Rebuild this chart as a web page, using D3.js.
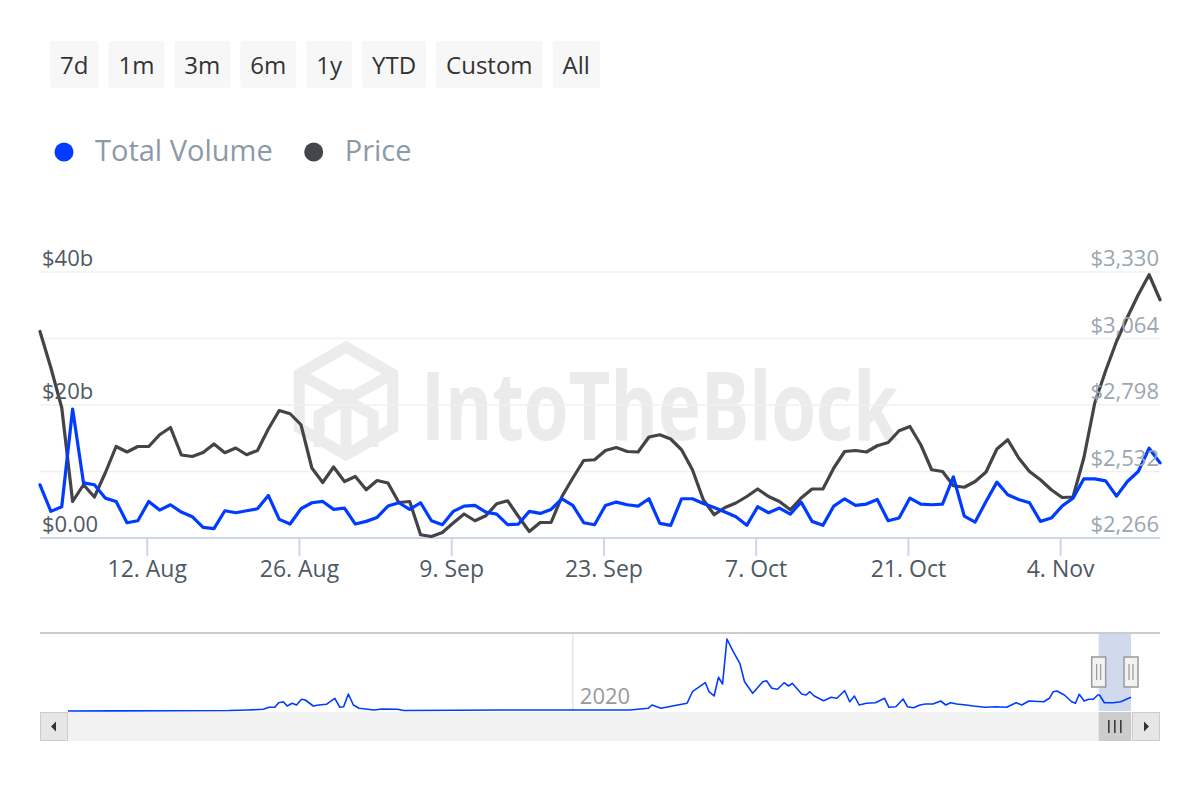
<!DOCTYPE html>
<html>
<head>
<meta charset="utf-8">
<script src="https://cdn.jsdelivr.net/npm/d3@7/dist/d3.min.js"></script>
<style>
	body { margin: 0; background: #ffffff; }
	text { font-family: "Open Sans", "Noto Sans", sans-serif; }
</style>
</head>
<body>
<svg id="chart" width="1200" height="800"></svg>
<script>

// ---- data ----
const range_buttons = ["7d", "1m", "3m", "6m", "1y", "YTD", "Custom", "All"]
const series_names = ["Total Volume", "Price"]

const first_day = "2024-08-02"
// daily total volume, billions USD
const total_volume = [
	8.0, 4.0, 4.7, 19.4, 8.3, 8.0, 6.0, 5.5, 2.3, 2.6,
	5.5, 4.2, 5.0, 3.9, 3.2, 1.6, 1.4, 4.1, 3.8, 4.1,
	4.4, 6.4, 2.8, 2.1, 4.4, 5.3, 5.5, 4.3, 4.5, 2.1,
	2.5, 3.1, 4.8, 5.3, 4.3, 5.3, 2.6, 2.0, 4.0, 4.8,
	4.9, 3.9, 3.6, 2.0, 2.1, 4.0, 3.7, 4.3, 5.9, 4.9,
	2.3, 2.0, 4.9, 5.4, 5.0, 4.8, 5.9, 2.2, 1.9, 5.9,
	5.9, 5.2, 4.6, 3.9, 3.2, 1.9, 4.7, 3.8, 4.5, 3.6,
	5.4, 2.5, 1.9, 4.8, 5.9, 4.9, 5.1, 5.8, 2.6, 3.0,
	6.0, 5.1, 5.0, 5.1, 9.2, 3.3, 2.4, 5.5, 8.4, 6.5,
	5.8, 5.3, 2.5, 3.0, 4.8, 6.0, 8.9, 8.9, 8.6, 6.3,
	8.5, 10.0, 13.5, 11.3
]
// daily price, USD
const price = [
	3092, 2947, 2787, 2412, 2479, 2430, 2526, 2632, 2610, 2632,
	2632, 2679, 2708, 2598, 2592, 2608, 2642, 2607, 2626, 2599,
	2616, 2702, 2776, 2763, 2719, 2546, 2488, 2550, 2492, 2512,
	2459, 2496, 2486, 2408, 2412, 2279, 2272, 2288, 2326, 2362,
	2335, 2355, 2403, 2415, 2352, 2292, 2328, 2328, 2432, 2506,
	2576, 2579, 2616, 2628, 2612, 2610, 2670, 2679, 2662, 2619,
	2539, 2419, 2359, 2388, 2406, 2432, 2462, 2432, 2412, 2379,
	2426, 2462, 2462, 2546, 2612, 2616, 2610, 2635, 2648, 2695,
	2712, 2639, 2539, 2532, 2475, 2469, 2492, 2530, 2622, 2659,
	2586, 2532, 2499, 2459, 2428, 2430, 2587, 2806, 2935, 3052,
	3149, 3239, 3319, 3219
]

const volume_ticks = [0, 10, 20, 30, 40]
const volume_label_ticks = [0, 20, 40]
const price_ticks = [2266, 2532, 2798, 3064, 3330]
const date_ticks = ["2024-08-12", "2024-08-26", "2024-09-09", "2024-09-23", "2024-10-07", "2024-10-21", "2024-11-04"]

// navigator: full history of total volume (billions USD)
const nav_dates = [
	"2015-08-07", "2016-01-01", "2017-01-01", "2017-03-01", "2017-04-20", "2017-05-08", "2017-05-27", "2017-06-08",
	"2017-06-23", "2017-07-05", "2017-07-21", "2017-08-04", "2017-08-20", "2017-09-01", "2017-09-26", "2017-10-14",
	"2017-11-07", "2017-11-19", "2017-12-04", "2017-12-20", "2018-01-01", "2018-01-16", "2018-02-01", "2018-02-19",
	"2018-04-08", "2018-05-03", "2018-06-21", "2018-07-12", "2018-12-25", "2019-05-28", "2020-01-01", "2020-03-27",
	"2020-06-30", "2020-08-28", "2020-09-09", "2020-10-08", "2020-11-30", "2020-12-30", "2021-01-16", "2021-02-26",
	"2021-03-10", "2021-03-26", "2021-04-09", "2021-04-22", "2021-05-06", "2021-05-26", "2021-06-16", "2021-07-01",
	"2021-07-27", "2021-08-28", "2021-09-09", "2021-09-26", "2021-10-14", "2021-11-04", "2021-11-18", "2021-11-30",
	"2021-12-30", "2022-01-13", "2022-01-25", "2022-02-08", "2022-03-10", "2022-04-03", "2022-04-21", "2022-05-16",
	"2022-06-01", "2022-06-16", "2022-07-01", "2022-07-24", "2022-08-22", "2022-09-20", "2022-10-04", "2022-10-26",
	"2022-11-18", "2022-12-02", "2022-12-21", "2023-01-11", "2023-01-28", "2023-02-21", "2023-03-18", "2023-04-03",
	"2023-04-18", "2023-05-08", "2023-06-07", "2023-06-30", "2023-08-05", "2023-09-09", "2023-10-14", "2023-11-13",
	"2023-12-01", "2023-12-24", "2024-02-09", "2024-02-27", "2024-03-10", "2024-03-22", "2024-04-15", "2024-05-08",
	"2024-05-20", "2024-06-01", "2024-06-17", "2024-07-01", "2024-07-16", "2024-07-30", "2024-08-05", "2024-08-20",
	"2024-09-18", "2024-10-11", "2024-11-13"
]
const nav_volume = [
	0, 0.1, 0.3, 0.7, 1.2, 2.6, 2.6, 5.8,
	6.5, 3.5, 5.4, 4.2, 8.2, 7.7, 3.5, 4.2,
	4.7, 6.5, 8.9, 2.6, 3.0, 11.9, 4.2, 1.9,
	0.7, 1.4, 1.2, 0.3, 0.5, 0.7, 0.7, 0.7,
	0.7, 1.9, 4.2, 1.9, 4.2, 5.4, 13.5, 19.8,
	13.5, 10.5, 23.6, 18.9, 50.4, 41.5, 33.4, 20.5,
	12.4, 20.5, 21.2, 15.9, 15.2, 19.8, 17.5, 19.4,
	11.9, 11.2, 13.5, 10.5, 7.2, 9.6, 8.9, 14.2,
	6.5, 10.5, 4.2, 5.4, 5.8, 8.9, 2.6, 3.0,
	8.4, 3.0, 2.3, 4.2, 4.9, 4.9, 7.0, 4.2,
	5.8, 4.9, 4.2, 3.5, 2.6, 3.0, 2.6, 5.8,
	4.2, 7.0, 6.5, 8.9, 13.5, 14.0, 11.2, 6.5,
	5.4, 11.7, 7.0, 8.2, 8.2, 11.2, 11.2, 5.8,
	5.8, 6.5, 9.6
]
const nav_year_ticks = ["2020-01-01"]

// ---- layout ----
const plot_left = 40, plot_right = 1160, plot_top = 272, plot_bottom = 538
const nav_top = 633, nav_bottom = 711, nav_left = 68, nav_right = 1131
const scroll_top = 712, scroll_h = 29

const vol_color = "#003cff"
const price_color = "#434348"

const svg = d3.select("#chart")

// ---- range selector buttons ----
let button_x = 50
const buttons = svg.append("g").classed("buttons", true)
range_buttons.forEach((label) => {
	let g = buttons.append("g")
	let rect = g.append("rect")
	let t = g.append("text")
		.text(label)
		.attr("y", 74)
		.attr("text-anchor", "middle")
		.attr("font-size", 24)
		.attr("fill", "#333333")
	let w = t.node().getComputedTextLength() + 20
	rect.attr("x", button_x).attr("y", 41)
		.attr("width", w).attr("height", 47)
		.attr("rx", 3)
		.attr("fill", "#f7f7f7")
	t.attr("x", button_x + w / 2)
	button_x += w + 10
})

// ---- legend ----
const legend = svg.append("g").classed("legend", true)
let legend_x = 64
series_names.forEach((name, i) => {
	legend.append("circle")
		.attr("cx", legend_x).attr("cy", 152).attr("r", 9.5)
		.attr("fill", i == 0 ? vol_color : "#43474b")
	let t = legend.append("text")
		.text(name)
		.attr("x", legend_x + 31).attr("y", 161)
		.attr("font-size", 29)
		.attr("fill", "#8c9aa7")
	legend_x += 31 + t.node().getComputedTextLength() + 41
})

// ---- scales ----
const dates = total_volume.map((d, i) => d3.utcDay.offset(new Date(first_day + "T00:00:00Z"), i))

const x = d3.scaleUtc()
	.domain([dates[0], dates[dates.length - 1]])
	.range([plot_left, plot_right])

const y_vol = d3.scaleLinear()
	.domain([volume_ticks[0], volume_ticks[volume_ticks.length - 1]])
	.range([plot_bottom, plot_top])

const y_price = d3.scaleLinear()
	.domain([price_ticks[0], price_ticks[price_ticks.length - 1]])
	.range([plot_bottom, plot_top])

// ---- watermark ----
const wm = svg.append("g").classed("watermark", true)
const hex_cx = 346, hex_cy = 401, hex_r = 54
const hex_pts = d3.range(6).map(k => {
	let a = (-90 + 60 * k) * Math.PI / 180
	return [hex_cx + hex_r * Math.cos(a), hex_cy + hex_r * Math.sin(a)]
})
wm.append("path")
	.attr("d", "M" + hex_pts.join("L") + "Z")
	.attr("fill", "none").attr("stroke", "#ececec").attr("stroke-width", 11)
	.attr("stroke-linejoin", "miter")
wm.append("path")
	.attr("d", `M${hex_pts[5]}L${hex_cx + 27},${hex_cy + 14}L${hex_cx + 27},${hex_cy + 46}
		M${hex_pts[1]}L${hex_cx - 27},${hex_cy + 14}L${hex_cx - 27},${hex_cy + 46}
		M${hex_cx},${hex_cy - 12}L${hex_cx},${hex_cy + 56}`)
	.attr("fill", "none").attr("stroke", "#ececec").attr("stroke-width", 11)
wm.append("text")
	.text("IntoTheBlock")
	.attr("x", 421).attr("y", 440)
	.attr("font-size", 95)
	.attr("font-weight", "bold")
	.attr("textLength", 477)
	.attr("lengthAdjust", "spacingAndGlyphs")
	.attr("fill", "#ebebeb")

// ---- grid ----
svg.append("g").classed("grid", true)
	.selectAll("line")
	.data(volume_ticks.slice(1)).enter().append("line")
	.attr("x1", plot_left).attr("x2", plot_right)
	.attr("y1", d => y_vol(d)).attr("y2", d => y_vol(d))
	.attr("stroke", "#f0f0f0").attr("stroke-width", 1.5)

// ---- x axis ----
const tick_dates = date_ticks.map(d => new Date(d + "T00:00:00Z"))
const x_axis = svg.append("g").classed("x_axis", true)
x_axis.append("line")
	.attr("x1", plot_left).attr("x2", plot_right)
	.attr("y1", plot_bottom).attr("y2", plot_bottom)
	.attr("stroke", "#ccd6eb").attr("stroke-width", 2)
x_axis.selectAll("line.tick")
	.data(tick_dates).enter().append("line")
	.classed("tick", true)
	.attr("x1", d => x(d) - 1.5).attr("x2", d => x(d) - 1.5)
	.attr("y1", plot_bottom).attr("y2", plot_bottom + 18)
	.attr("stroke", "#ccd6eb").attr("stroke-width", 2)
x_axis.selectAll("text")
	.data(tick_dates).enter().append("text")
	.text(d => d3.utcFormat("%-d. %b")(d))
	.attr("x", d => x(d) - 1.5).attr("y", 577)
	.attr("text-anchor", "middle")
	.attr("font-size", 23)
	.attr("fill", "#4f5964")

// ---- series ----
svg.append("clipPath").attr("id", "plot_clip")
	.append("rect")
	.attr("x", plot_left - 2).attr("y", plot_top - 10)
	.attr("width", plot_right - plot_left + 4).attr("height", plot_bottom - plot_top + 10)

const lines = svg.append("g").attr("clip-path", "url(#plot_clip)")

lines.append("path")
	.datum(price)
	.attr("d", d3.line().x((d, i) => x(dates[i])).y(d => y_price(d)))
	.attr("fill", "none").attr("stroke", price_color)
	.attr("stroke-width", 3.2).attr("stroke-linejoin", "round").attr("stroke-linecap", "round")

lines.append("path")
	.datum(total_volume)
	.attr("d", d3.line().x((d, i) => x(dates[i])).y(d => y_vol(d)))
	.attr("fill", "none").attr("stroke", vol_color)
	.attr("stroke-width", 3.2).attr("stroke-linejoin", "round").attr("stroke-linecap", "round")

// ---- y axis labels ----
svg.append("g").classed("y_left", true)
	.selectAll("text")
	.data(volume_label_ticks).enter().append("text")
	.text(d => d == 0 ? "$0.00" : "$" + d + "b")
	.attr("x", 42).attr("y", d => y_vol(d) - 6)
	.attr("font-size", 22)
	.attr("fill", "#4f5964")

svg.append("g").classed("y_right", true)
	.selectAll("text")
	.data(price_ticks).enter().append("text")
	.text(d => "$" + d3.format(",")(d))
	.attr("x", 1159).attr("y", d => y_price(d) - 6)
	.attr("text-anchor", "end")
	.attr("font-size", 22)
	.attr("fill", "#9ba6b0")

// ---- navigator ----
const nav_x = d3.scaleUtc()
	.domain([new Date(nav_dates[0] + "T00:00:00Z"), new Date(nav_dates[nav_dates.length - 1] + "T00:00:00Z")])
	.range([nav_left, nav_right])
const nav_y = d3.scaleLinear()
	.domain([0, d3.max(nav_volume)])
	.range([nav_bottom, nav_top + 6])

const nav = svg.append("g").classed("navigator", true)

nav.selectAll("line.year")
	.data(nav_year_ticks).enter().append("line")
	.classed("year", true)
	.attr("x1", d => nav_x(new Date(d))).attr("x2", d => nav_x(new Date(d)))
	.attr("y1", nav_top).attr("y2", nav_bottom)
	.attr("stroke", "#e6e6e6").attr("stroke-width", 1.5)
nav.selectAll("text.year")
	.data(nav_year_ticks).enter().append("text")
	.classed("year", true)
	.text(d => d.slice(0, 4))
	.attr("x", d => nav_x(new Date(d)) + 7).attr("y", 704)
	.attr("font-size", 22)
	.attr("fill", "#999999")

// selected range mask
nav.append("rect")
	.attr("x", nav_x(dates[0])).attr("y", nav_top)
	.attr("width", nav_x(dates[dates.length - 1]) - nav_x(dates[0]))
	.attr("height", nav_bottom - nav_top)
	.attr("fill", "rgba(102,133,194,0.3)")

nav.append("path")
	.datum(nav_volume)
	.attr("d", d3.line().x((d, i) => nav_x(new Date(nav_dates[i] + "T00:00:00Z"))).y(d => nav_y(d)))
	.attr("fill", "none").attr("stroke", vol_color).attr("stroke-width", 1.6)
	.attr("stroke-linejoin", "round")

nav.append("line")
	.attr("x1", plot_left).attr("x2", plot_right)
	.attr("y1", nav_top).attr("y2", nav_top)
	.attr("stroke", "#cccccc").attr("stroke-width", 2)

// handles
;[dates[0], dates[dates.length - 1]].forEach(d => {
	let hx = nav_x(d)
	nav.append("rect")
		.attr("x", hx - 7).attr("y", 657).attr("width", 14).attr("height", 30)
		.attr("fill", "#f2f2f2").attr("stroke", "#999999").attr("stroke-width", 1.5)
	nav.append("path")
		.attr("d", `M${hx - 2},664V680M${hx + 2},664V680`)
		.attr("stroke", "#999999").attr("stroke-width", 1.2)
})

// ---- scrollbar ----
const sb = svg.append("g").classed("scrollbar", true)
sb.append("rect")
	.attr("x", plot_left).attr("y", scroll_top)
	.attr("width", plot_right - plot_left).attr("height", scroll_h)
	.attr("fill", "#f2f2f2")
sb.append("rect")
	.attr("x", nav_x(dates[0])).attr("y", scroll_top)
	.attr("width", nav_x(dates[dates.length - 1]) - nav_x(dates[0])).attr("height", scroll_h)
	.attr("fill", "#cccccc")
let thumb_mid = (nav_x(dates[0]) + nav_x(dates[dates.length - 1])) / 2
sb.append("path")
	.attr("d", `M${thumb_mid - 6},720V733M${thumb_mid},720V733M${thumb_mid + 6},720V733`)
	.attr("stroke", "#333333").attr("stroke-width", 1.5)

;[[plot_left, -1], [plot_right - 28, 1]].forEach(([bx, dir]) => {
	sb.append("rect")
		.attr("x", bx + 0.5).attr("y", scroll_top + 0.5)
		.attr("width", 27).attr("height", scroll_h - 1)
		.attr("fill", "#e6e6e6").attr("stroke", "#cccccc").attr("stroke-width", 1)
	let cx = bx + 14, cy = scroll_top + scroll_h / 2
	sb.append("path")
		.attr("d", `M${cx + 3 * dir},${cy}L${cx - 2 * dir},${cy - 5}L${cx - 2 * dir},${cy + 5}Z`)
		.attr("fill", "#333333")
})

</script>
</body>
</html>
